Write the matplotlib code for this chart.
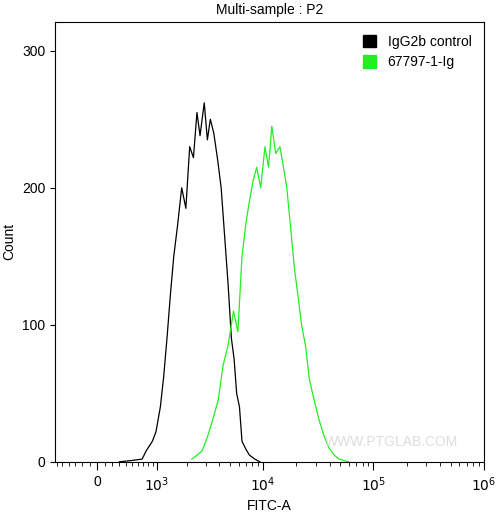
import numpy as np
import matplotlib
matplotlib.use("Agg")
import matplotlib.pyplot as plt
from matplotlib.patches import Patch
plt.rcParams['font.family'] = ['Liberation Sans', 'DejaVu Sans']

C = 630.0
def fwd(x): return np.arcsinh(np.asarray(x, float) / C) / np.log(10)
def inv(y): return C * np.sinh(np.asarray(y, float) * np.log(10))

ctrl_x = [300, 500, 680, 760, 895, 980, 1090, 1180, 1275, 1380, 1490, 1620, 1780, 1950, 2120, 2300, 2480, 2650, 2900, 3100, 3300, 3550, 3860, 4150, 4510, 4800, 5150, 5450, 5750, 6100, 6430, 7000, 7500, 8400, 9350]
ctrl_y = [0, 1, 2, 8, 15, 22, 40, 62, 90, 122, 150, 172, 200, 185, 230, 222, 255, 238, 262, 235, 250, 240, 220, 200, 160, 130, 90, 75, 50, 40, 15, 9, 5, 2, 0]
ig_x = [2220, 2500, 2770, 3100, 3450, 3900, 4310, 4800, 5380, 5900, 6430, 7000, 7500, 8100, 8750, 9500, 10400, 11200, 12000, 13000, 14200, 15300, 16400, 17800, 19300, 20800, 22300, 24200, 26300, 29000, 32300, 36000, 39600, 44000, 48700, 59800]
ig_y = [2, 5, 8, 18, 30, 45, 70, 85, 110, 95, 150, 175, 190, 205, 215, 200, 230, 215, 245, 225, 230, 215, 200, 170, 140, 120, 100, 85, 60, 45, 30, 18, 10, 5, 2, 0]

fig = plt.figure(figsize=(5.02, 5.12), dpi=100)
ax = fig.add_axes([0.11, 0.098, 0.854, 0.859])
ax.set_xscale('function', functions=(fwd, inv))
ax.plot(ctrl_x, ctrl_y, color='black', lw=0.9)
ax.plot(ig_x, ig_y, color='#22ee22', lw=0.9)
ax.set_xlim(-625, 1e6)
ax.set_ylim(0, 321)
ax.set_xticks([0, 1e3, 1e4, 1e5, 1e6])
ax.set_xticklabels(['0', '$10^3$', '$10^4$', '$10^5$', '$10^6$'])
minor = [v for v in range(-600, 1000, 100) if v != 0]
for k in range(3, 6):
    minor += [m * 10**k for m in range(2, 10)]
ax.set_xticks(minor, minor=True)
ax.set_yticks([0, 100, 200, 300])
ax.tick_params(axis='x', which='major', length=6, direction='out')
ax.tick_params(axis='x', which='minor', length=3, direction='out')
ax.tick_params(labelsize=10)
ax.set_xlabel('FITC-A', fontsize=10)
ax.set_ylabel('Count', fontsize=10)
ax.set_title('Multi-sample : P2', fontsize=10)
ax.legend(handles=[Patch(color='black', label='IgG2b control'), Patch(color='#22ee22', label='67797-1-Ig')],
          loc='upper right', frameon=False, fontsize=10, handlelength=1.0, handleheight=1.0)
ax.text(0.94, 0.03, 'WWW.PTGLAB.COM', transform=ax.transAxes, ha='right', va='bottom',
        color='#dddddd', fontsize=10)
fig.savefig('out.png', dpi=100)
